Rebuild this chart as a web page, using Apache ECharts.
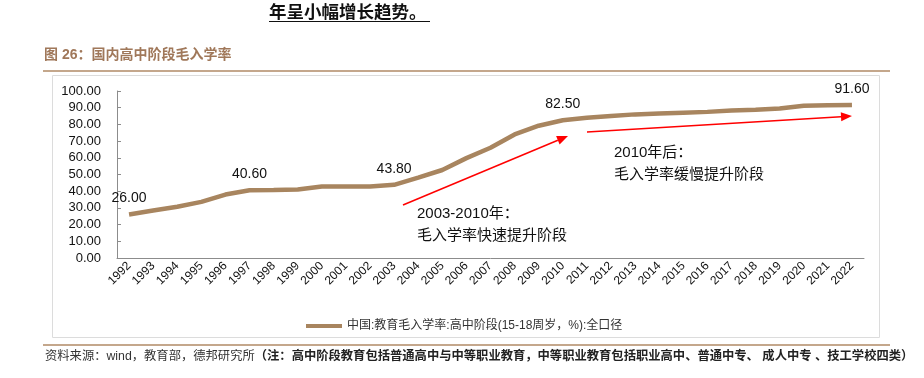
<!DOCTYPE html>
<html><head><meta charset="utf-8">
<script src="https://cdn.jsdelivr.net/npm/echarts@6/dist/echarts.min.js"></script>
<style>html,body{margin:0;padding:0;background:#fff}#c{width:924px;height:378px}</style>
</head><body><div id="c"></div>
<script>
var years = ['1992','1993','1994','1995','1996','1997','1998','1999','2000','2001','2002','2003','2004','2005','2006','2007','2008','2009','2010','2011','2012','2013','2014','2015','2016','2017','2018','2019','2020','2021','2022'];
var rates = [26.0,28.4,30.7,33.6,38.0,40.6,40.7,41.0,42.8,42.8,42.8,43.8,48.1,52.7,59.8,66.0,74.0,79.2,82.5,84.0,85.0,86.0,86.5,87.0,87.5,88.3,88.8,89.5,91.2,91.4,91.6];
var labeledYears = ['1992','1997','2003','2010','2022'];
var yTicks = [0,10,20,30,40,50,60,70,80,90,100];
var seriesName = '中国:教育毛入学率:高中阶段(15-18周岁，%):全口径';
var pageTitle = '年呈小幅增长趋势。';
var figTitle = '图 26：国内高中阶段毛入学率';
var note1a = '2003-2010年：', note1b = '毛入学率快速提升阶段';
var note2a = '2010年后：', note2b = '毛入学率缓慢提升阶段';
var srcPlain = '资料来源：wind，教育部，德邦研究所';
var srcBold = '（注：高中阶段教育包括普通高中与中等职业教育，中等职业教育包括职业高中、普通中专、 成人中专 、技工学校四类）';

var FONT = "'Liberation Sans','Noto Sans CJK SC',sans-serif";
var CJK = "'Noto Sans CJK SC',sans-serif";
var brown = '#a8855f';

function arrow(x1,y1,x2,y2){
  var dx=x2-x1, dy=y2-y1, L=Math.sqrt(dx*dx+dy*dy), ux=dx/L, uy=dy/L, px=-uy, py=ux;
  var hl=11, hw=4.5, bx=x2-ux*hl, by=y2-uy*hl;
  return [
    {type:'line', shape:{x1:x1,y1:y1,x2:bx,y2:by}, style:{stroke:'#ff0000', lineWidth:1.5}},
    {type:'polygon', shape:{points:[[x2,y2],[bx+px*hw,by+py*hw],[bx-px*hw,by-py*hw]]}, style:{fill:'#ff0000'}}
  ];
}

var chart = echarts.init(document.getElementById('c'));
var graphics = [
  {type:'text', left:269, top:3, style:{text:pageTitle, font:'bold 17.5px '+CJK, fill:'#111'}},
  {type:'line', shape:{x1:269,y1:21.5,x2:430,y2:21.5}, style:{stroke:'#111', lineWidth:1}},
  {type:'text', left:44, top:48, style:{text:figTitle, font:'bold 14px '+FONT, fill:'#a0785a'}},
  {type:'line', shape:{x1:43,y1:71,x2:890,y2:71}, style:{stroke:'#b08a66', lineWidth:1.5}},
  {type:'rect', shape:{x:52.5,y:75.5,width:827,height:262}, style:{fill:'none', stroke:'#dcdcdc', lineWidth:1}},
  {type:'line', shape:{x1:43,y1:345,x2:890,y2:345}, style:{stroke:'#b08a66', lineWidth:1.5}},
  {type:'text', left:45, top:350, style:{text:'{a|'+srcPlain+'}{b|'+srcBold+'}', rich:{
     a:{fontSize:12.3, fontFamily:FONT, fill:'#333'},
     b:{fontSize:12.3, fontFamily:FONT, fontWeight:'bold', fill:'#222'}}}},
  {type:'text', left:417, top:203, style:{text:note1a+'\n'+note1b, font:'15px '+FONT, fill:'#111', lineHeight:22}},
  {type:'text', left:614, top:142, style:{text:note2a+'\n'+note2b, font:'15px '+FONT, fill:'#111', lineHeight:22}}
].concat(arrow(403,205,568,136)).concat(arrow(587,132,852,116));

chart.setOption({
  animation:false,
  textStyle:{fontFamily:FONT},
  grid:{left:117, right:60, top:91, bottom:120, containLabel:false},
  legend:{left:301, top:315, itemWidth:36, itemHeight:4, itemGap:4,
    textStyle:{fontSize:12, color:'#333', fontFamily:FONT}, data:[{name:seriesName, icon:'rect'}]},
  xAxis:{type:'category', data:years, boundaryGap:true,
    axisLine:{lineStyle:{color:'#8c8c8c'}}, axisTick:{inside:true, length:5, lineStyle:{color:'#8c8c8c'}},
    axisLabel:{rotate:45, fontSize:12, color:'#111', margin:6, interval:0}},
  yAxis:{type:'value', min:0, max:100, interval:10,
    axisLine:{show:true, lineStyle:{color:'#8c8c8c'}}, axisTick:{show:true, inside:true, length:4, lineStyle:{color:'#8c8c8c'}},
    splitLine:{show:false},
    axisLabel:{fontSize:13, color:'#111', margin:16, formatter:function(v){return v.toFixed(2);}}},
  series:[{name:seriesName, type:'line', symbol:'circle', symbolSize:0.01, showSymbol:true, showAllSymbol:true,
    lineStyle:{color:brown, width:4.5}, itemStyle:{color:brown},
    label:{show:false, position:'top', distance:9, fontSize:14, color:'#111',
      formatter:function(p){return Number(p.value).toFixed(2);}},
    data:rates.map(function(v,i){
      var show = labeledYears.indexOf(years[i])>=0;
      return {value:v, label:{show:show}};
    })}],
  graphic:graphics
});
</script></body></html>
